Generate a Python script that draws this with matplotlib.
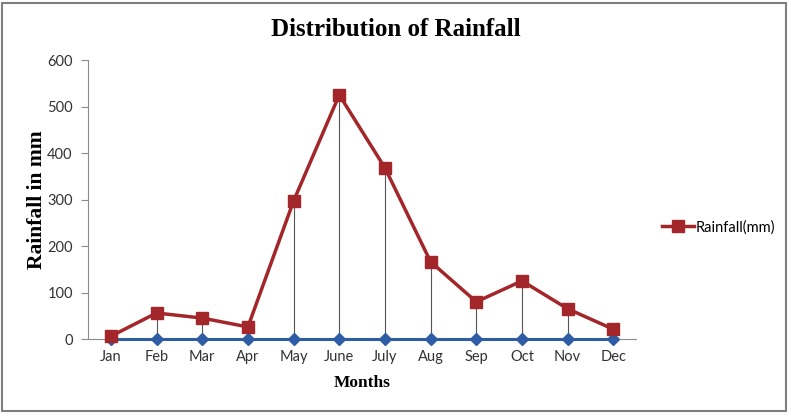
import matplotlib
matplotlib.use("Agg")
import matplotlib.pyplot as plt
from matplotlib.patches import Rectangle

months = ["Jan", "Feb", "Mar", "Apr", "May", "June", "July", "Aug", "Sep", "Oct", "Nov", "Dec"]
rainfall = [6, 56, 45, 26, 297, 525, 368, 166, 80, 125, 65, 21]
baseline = [0, 0, 0, 0, 0, 0, 0, 0, 0, 0, 0, 0]
yticks = [0, 100, 200, 300, 400, 500, 600]

red = "#A3262A"
blue = "#2E5DA6"
tick_font = "Lato"
serif = "Liberation Serif"

fig = plt.figure(figsize=(7.91, 4.17), dpi=100)
fig.patches.append(Rectangle((0.003, 0.014), 0.991, 0.98, transform=fig.transFigure,
                             fill=False, edgecolor="#7f7f7f", linewidth=1.5))
ax = fig.add_axes([0.1113, 0.187, 0.693, 0.669])

x = list(range(len(months)))
# drop lines
ax.vlines(x, baseline, rainfall, colors="#555555", linewidth=0.8, zorder=1)
ax.plot(x, baseline, color=blue, linewidth=2.2, marker="D", markersize=6.5,
        markerfacecolor=blue, markeredgecolor=blue, zorder=4, clip_on=False)
ax.plot(x, rainfall, color=red, linewidth=2.5, marker="s", markersize=9,
        markerfacecolor=red, markeredgecolor=red, zorder=5, label="Rainfall(mm)",
        clip_on=False)

ax.set_xlim(-0.5, len(months) - 0.5)
ax.set_ylim(0, 600)
ax.set_yticks(yticks)
ax.set_xticks(x)
ax.set_xticklabels(months)
for s in ["top", "right"]:
    ax.spines[s].set_visible(False)
ax.spines["left"].set_color("#8c8c8c")
ax.spines["bottom"].set_color("#8c8c8c")
ax.tick_params(axis="y", length=5, color="#8c8c8c", labelsize=10.5, labelcolor="#333333", pad=6)
ax.tick_params(axis="x", length=0, labelsize=10.5, labelcolor="#333333", pad=8)
for lbl in ax.get_xticklabels() + ax.get_yticklabels():
    lbl.set_fontfamily(tick_font)

ax.set_ylabel("Rainfall in mm", fontfamily=serif, fontweight="bold", fontsize=15.5, labelpad=0)
ax.set_xlabel("Months", fontfamily=serif, fontweight="bold", fontsize=12.5, labelpad=8)
fig.text(0.5, 0.93, "Distribution of Rainfall", ha="center", va="center",
         fontfamily=serif, fontweight="bold", fontsize=18)

leg = fig.legend(loc="center left", bbox_to_anchor=(0.828, 0.455), frameon=False,
                 prop={"family": tick_font, "size": 10.5}, handlelength=2.2,
                 handletextpad=0.1, borderpad=0)

fig.savefig("out.png", dpi=100)
